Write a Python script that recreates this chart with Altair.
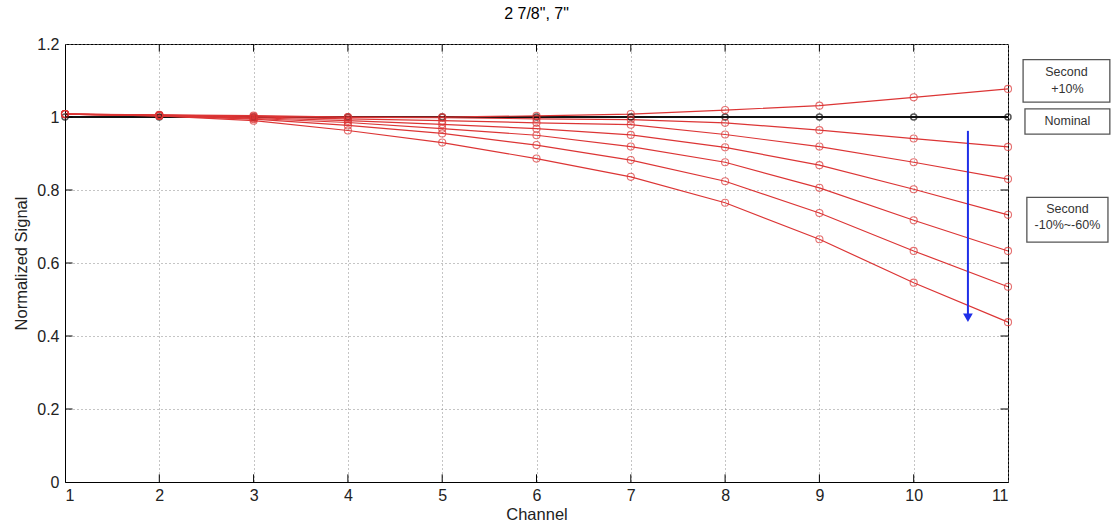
import altair as alt
import pandas as pd

# Normalized signal per channel for the nominal case and the varied "Second" layer
channels = list(range(1, 12))
nominal = [1.0] * 11
second_p10 = [1.008, 1.006, 1.004, 1.000, 1.000, 1.003, 1.008, 1.019, 1.031, 1.054, 1.077]
second_m10 = [1.008, 1.005, 1.002, 0.999, 0.998, 0.995, 0.993, 0.984, 0.964, 0.941, 0.918]
second_m20 = [1.008, 1.005, 1.000, 0.995, 0.990, 0.984, 0.979, 0.952, 0.919, 0.876, 0.830]
second_m30 = [1.008, 1.004, 0.998, 0.990, 0.980, 0.968, 0.951, 0.917, 0.868, 0.802, 0.732]
second_m40 = [1.008, 1.004, 0.996, 0.985, 0.968, 0.950, 0.919, 0.876, 0.806, 0.717, 0.633]
second_m50 = [1.008, 1.003, 0.994, 0.977, 0.955, 0.923, 0.882, 0.824, 0.737, 0.633, 0.535]
second_m60 = [1.008, 1.003, 0.990, 0.963, 0.930, 0.886, 0.836, 0.765, 0.665, 0.546, 0.438]

varied = {
    "Second +10%": second_p10,
    "Second -10%": second_m10,
    "Second -20%": second_m20,
    "Second -30%": second_m30,
    "Second -40%": second_m40,
    "Second -50%": second_m50,
    "Second -60%": second_m60,
}

x_ticks = list(range(1, 12))
y_ticks = [0, 0.2, 0.4, 0.6, 0.8, 1.0, 1.2]

# Label boxes to the right of the plot (channel / signal units)
box_x1 = [11.16, 11.18, 11.20]
box_x2 = [12.08, 12.08, 12.06]
box_y1 = [1.157, 1.022, 0.780]
box_y2 = [1.041, 0.953, 0.657]
label_x = [11.62, 11.63, 11.63, 11.63, 11.63]
label_y = [1.122, 1.078, 0.988, 0.747, 0.703]
label_text = ["Second", "+10%", "Nominal", "Second", "-10%~-60%"]

# Downward arrow marking the -10% .. -60% progression
arrow_x = [10.575]
arrow_top = [0.962]
arrow_bottom = [0.450]

RED = "#dc3535"
FONT = "Liberation Sans"

red_rows = [
    {"series": name, "x": c, "y": v}
    for name, vals in varied.items()
    for c, v in zip(channels, vals)
]
red_df = pd.DataFrame(red_rows)
nom_df = pd.DataFrame({"series": "Nominal", "x": channels, "y": nominal})

x_scale = alt.Scale(domain=[1, 11], nice=False, zero=False)
y_scale = alt.Scale(domain=[0, 1.2], nice=False)

X = alt.X(
    "x:Q", scale=x_scale, title="Channel",
    axis=alt.Axis(values=x_ticks, format="d", grid=True, ticks=False,
                  labelPadding=5, titlePadding=3),
)
Y = alt.Y(
    "y:Q", scale=y_scale, title="Normalized Signal",
    axis=alt.Axis(values=y_ticks, format="~g", grid=True, ticks=False,
                  labelPadding=6, titlePadding=7),
)

nom_line = alt.Chart(nom_df).mark_line(color="#111111", strokeWidth=2).encode(x=X, y=Y)
nom_pts = alt.Chart(nom_df).mark_point(
    shape="circle", size=36, filled=False, color="#111111", strokeWidth=1.5
).encode(x=X, y=Y)

red_line = alt.Chart(red_df).mark_line(color=RED, strokeWidth=1.2).encode(
    x=X, y=Y, detail="series:N"
)
red_pts = alt.Chart(red_df).mark_point(
    shape="circle", size=50, filled=False, color=RED, strokeWidth=1.1
).encode(x=X, y=Y, detail="series:N")

# Inward tick marks on all four sides of the frame
tick_len_x = 0.021
tick_len_y = 0.08
bt = pd.DataFrame({"x": x_ticks[1:-1], "y": 0.0, "y2": tick_len_x})
tt = pd.DataFrame({"x": x_ticks[1:-1], "y": 1.2, "y2": 1.2 - tick_len_x})
lt = pd.DataFrame({"y": y_ticks[1:-1], "x": 1.0, "x2": 1.0 + tick_len_y})
rt = pd.DataFrame({"y": y_ticks[1:-1], "x": 11.0, "x2": 11.0 - tick_len_y})
ticks = alt.layer(
    alt.Chart(bt).mark_rule(color="#000", strokeWidth=1).encode(x=X, y=Y, y2="y2:Q"),
    alt.Chart(tt).mark_rule(color="#000", strokeWidth=1).encode(x=X, y=Y, y2="y2:Q"),
    alt.Chart(lt).mark_rule(color="#000", strokeWidth=1).encode(x=X, y=Y, x2="x2:Q"),
    alt.Chart(rt).mark_rule(color="#000", strokeWidth=1).encode(x=X, y=Y, x2="x2:Q"),
)

arrow_df = pd.DataFrame({"x": arrow_x, "y": arrow_top, "y2": arrow_bottom})
arrow_line = alt.Chart(arrow_df).mark_rule(color="#1f2fe8", strokeWidth=2).encode(
    x=X, y=Y, y2="y2:Q"
)
head_df = pd.DataFrame({"x": arrow_x, "y": arrow_bottom})
arrow_head = alt.Chart(head_df).mark_point(
    shape="triangle-down", size=95, filled=True, color="#1f2fe8", opacity=1
).encode(x=X, y=Y)

box_df = pd.DataFrame({"x": box_x1, "x2": box_x2, "y": box_y1, "y2": box_y2})
boxes = alt.Chart(box_df).mark_rect(
    fill="white", stroke="#555555", strokeWidth=1.3, clip=False
).encode(x=X, x2="x2:Q", y=Y, y2="y2:Q")
lab_df = pd.DataFrame({"x": label_x, "y": label_y, "t": label_text})
labels = alt.Chart(lab_df).mark_text(
    font=FONT, fontSize=12.5, color="#333333", clip=False
).encode(x=X, y=Y, text="t:N")

chart = (
    alt.layer(nom_line, red_line, nom_pts, red_pts, ticks, arrow_line, arrow_head, boxes, labels)
    .properties(
        width=943,
        height=438,
        background="white",
        title=alt.TitleParams('2 7/8", 7"', font=FONT, fontSize=16, fontWeight="normal",
                              color="#000000", anchor="middle", offset=14),
        autosize=alt.AutoSizeParams(type="none"),
        padding={"left": 65, "top": 44, "right": 110, "bottom": 49},
    )
    .configure_view(stroke="#000000", strokeWidth=1)
    .configure_axis(
        domainColor="#000000",
        gridColor="#8a8a8a",
        gridDash=[1, 3],
        gridWidth=1,
        labelFont=FONT,
        labelFontSize=16,
        labelColor="#222222",
        titleFont=FONT,
        titleFontSize=16.5,
        titleFontWeight="normal",
        titleColor="#222222",
    )
)

chart.save("out.html", embed_options={"renderer": "svg", "actions": False})
